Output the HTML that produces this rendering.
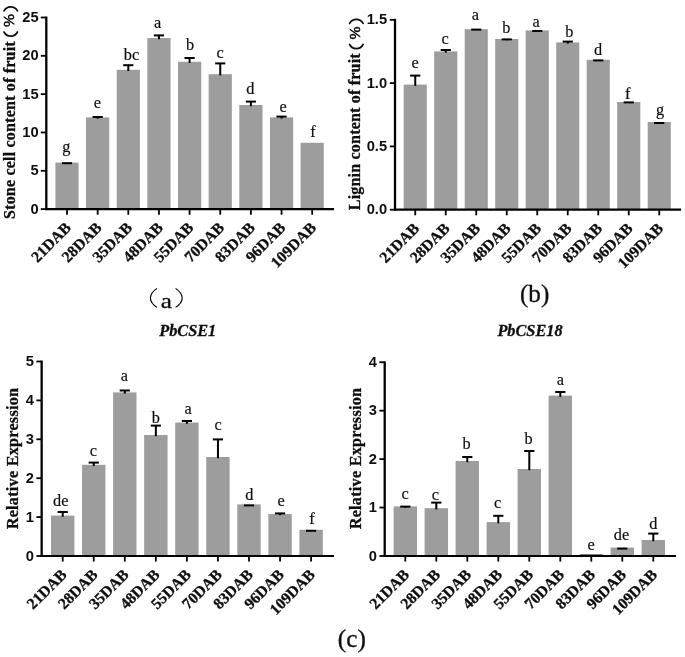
<!DOCTYPE html>
<html><head><meta charset="utf-8"><title>Figure</title>
<style>
html,body{margin:0;padding:0;background:#fff;}
body{width:685px;height:657px;overflow:hidden;font-family:"Liberation Sans",sans-serif;}
svg{display:block;}
text{fill:#111;}
</style></head><body>
<svg width="685" height="657" viewBox="0 0 685 657">
<defs><filter id="soft" x="0" y="0" width="685" height="657" filterUnits="userSpaceOnUse"><feGaussianBlur stdDeviation="0.45"/></filter></defs>
<rect width="685" height="657" fill="#fff"/>
<g filter="url(#soft)">
<rect x="55.40" y="162.60" width="23.2" height="46.50" fill="#9d9d9d"/>
<rect x="86.05" y="117.40" width="23.2" height="91.70" fill="#9d9d9d"/>
<rect x="116.70" y="69.80" width="23.2" height="139.30" fill="#9d9d9d"/>
<rect x="147.35" y="38.00" width="23.2" height="171.10" fill="#9d9d9d"/>
<rect x="178.00" y="61.80" width="23.2" height="147.30" fill="#9d9d9d"/>
<rect x="208.65" y="74.20" width="23.2" height="134.90" fill="#9d9d9d"/>
<rect x="239.30" y="105.00" width="23.2" height="104.10" fill="#9d9d9d"/>
<rect x="269.95" y="117.40" width="23.2" height="91.70" fill="#9d9d9d"/>
<rect x="300.60" y="142.80" width="23.2" height="66.30" fill="#9d9d9d"/>
<path d="M61.90 163.20H72.10" stroke="#000" stroke-width="2.0" fill="none"/>
<path d="M92.55 117.00H102.75" stroke="#000" stroke-width="2.0" fill="none"/>
<path d="M97.65 117.00V118.60" stroke="#000" stroke-width="2.0" fill="none"/>
<path d="M123.20 65.20H133.40" stroke="#000" stroke-width="2.0" fill="none"/>
<path d="M128.30 65.20V71.00" stroke="#000" stroke-width="2.0" fill="none"/>
<path d="M153.85 35.40H164.05" stroke="#000" stroke-width="2.0" fill="none"/>
<path d="M158.95 35.40V39.20" stroke="#000" stroke-width="2.0" fill="none"/>
<path d="M184.50 58.00H194.70" stroke="#000" stroke-width="2.0" fill="none"/>
<path d="M189.60 58.00V63.00" stroke="#000" stroke-width="2.0" fill="none"/>
<path d="M215.15 63.40H225.35" stroke="#000" stroke-width="2.0" fill="none"/>
<path d="M220.25 63.40V75.40" stroke="#000" stroke-width="2.0" fill="none"/>
<path d="M245.80 101.60H256.00" stroke="#000" stroke-width="2.0" fill="none"/>
<path d="M250.90 101.60V106.20" stroke="#000" stroke-width="2.0" fill="none"/>
<path d="M276.45 116.60H286.65" stroke="#000" stroke-width="2.0" fill="none"/>
<path d="M281.55 116.60V118.60" stroke="#000" stroke-width="2.0" fill="none"/>
<path d="M46.3 16.60V210.05" stroke="#000" stroke-width="2.3" fill="none"/>
<path d="M45.199999999999996 209.1H334" stroke="#000" stroke-width="2.2" fill="none"/>
<path d="M40.8 209.10H46.3" stroke="#000" stroke-width="1.8" fill="none"/>
<text x="38.7" y="213.70" font-family="Liberation Sans" font-weight="bold" font-size="14.7" text-anchor="end">0</text>
<path d="M40.8 170.78H46.3" stroke="#000" stroke-width="1.8" fill="none"/>
<text x="38.7" y="175.38" font-family="Liberation Sans" font-weight="bold" font-size="14.7" text-anchor="end">5</text>
<path d="M40.8 132.46H46.3" stroke="#000" stroke-width="1.8" fill="none"/>
<text x="38.7" y="137.06" font-family="Liberation Sans" font-weight="bold" font-size="14.7" text-anchor="end">10</text>
<path d="M40.8 94.14H46.3" stroke="#000" stroke-width="1.8" fill="none"/>
<text x="38.7" y="98.74" font-family="Liberation Sans" font-weight="bold" font-size="14.7" text-anchor="end">15</text>
<path d="M40.8 55.82H46.3" stroke="#000" stroke-width="1.8" fill="none"/>
<text x="38.7" y="60.42" font-family="Liberation Sans" font-weight="bold" font-size="14.7" text-anchor="end">20</text>
<path d="M40.8 17.50H46.3" stroke="#000" stroke-width="1.8" fill="none"/>
<text x="38.7" y="22.10" font-family="Liberation Sans" font-weight="bold" font-size="14.7" text-anchor="end">25</text>
<path d="M67.00 209.1V214.70" stroke="#000" stroke-width="1.8" fill="none"/>
<path d="M97.65 209.1V214.70" stroke="#000" stroke-width="1.8" fill="none"/>
<path d="M128.30 209.1V214.70" stroke="#000" stroke-width="1.8" fill="none"/>
<path d="M158.95 209.1V214.70" stroke="#000" stroke-width="1.8" fill="none"/>
<path d="M189.60 209.1V214.70" stroke="#000" stroke-width="1.8" fill="none"/>
<path d="M220.25 209.1V214.70" stroke="#000" stroke-width="1.8" fill="none"/>
<path d="M250.90 209.1V214.70" stroke="#000" stroke-width="1.8" fill="none"/>
<path d="M281.55 209.1V214.70" stroke="#000" stroke-width="1.8" fill="none"/>
<path d="M312.20 209.1V214.70" stroke="#000" stroke-width="1.8" fill="none"/>
<text transform="translate(71.90,228.70) rotate(-45)" font-family="Liberation Serif" font-weight="bold" font-size="15.7" text-anchor="end" stroke="#111" stroke-width="0.3">21DAB</text>
<text transform="translate(102.55,228.70) rotate(-45)" font-family="Liberation Serif" font-weight="bold" font-size="15.7" text-anchor="end" stroke="#111" stroke-width="0.3">28DAB</text>
<text transform="translate(133.20,228.70) rotate(-45)" font-family="Liberation Serif" font-weight="bold" font-size="15.7" text-anchor="end" stroke="#111" stroke-width="0.3">35DAB</text>
<text transform="translate(163.85,228.70) rotate(-45)" font-family="Liberation Serif" font-weight="bold" font-size="15.7" text-anchor="end" stroke="#111" stroke-width="0.3">48DAB</text>
<text transform="translate(194.50,228.70) rotate(-45)" font-family="Liberation Serif" font-weight="bold" font-size="15.7" text-anchor="end" stroke="#111" stroke-width="0.3">55DAB</text>
<text transform="translate(225.15,228.70) rotate(-45)" font-family="Liberation Serif" font-weight="bold" font-size="15.7" text-anchor="end" stroke="#111" stroke-width="0.3">70DAB</text>
<text transform="translate(255.80,228.70) rotate(-45)" font-family="Liberation Serif" font-weight="bold" font-size="15.7" text-anchor="end" stroke="#111" stroke-width="0.3">83DAB</text>
<text transform="translate(286.45,228.70) rotate(-45)" font-family="Liberation Serif" font-weight="bold" font-size="15.7" text-anchor="end" stroke="#111" stroke-width="0.3">96DAB</text>
<text transform="translate(317.10,228.70) rotate(-45)" font-family="Liberation Serif" font-weight="bold" font-size="15.7" text-anchor="end" stroke="#111" stroke-width="0.3">109DAB</text>
<text x="66.40" y="152.40" font-family="Liberation Serif" font-size="16.3" text-anchor="middle" stroke="#111" stroke-width="0.2">g</text>
<text x="97.40" y="108.00" font-family="Liberation Serif" font-size="16.3" text-anchor="middle" stroke="#111" stroke-width="0.2">e</text>
<text x="131.50" y="60.20" font-family="Liberation Serif" font-size="16.3" text-anchor="middle" stroke="#111" stroke-width="0.2">bc</text>
<text x="157.60" y="28.00" font-family="Liberation Serif" font-size="16.3" text-anchor="middle" stroke="#111" stroke-width="0.2">a</text>
<text x="190.00" y="49.60" font-family="Liberation Serif" font-size="16.3" text-anchor="middle" stroke="#111" stroke-width="0.2">b</text>
<text x="220.00" y="57.80" font-family="Liberation Serif" font-size="16.3" text-anchor="middle" stroke="#111" stroke-width="0.2">c</text>
<text x="250.40" y="93.60" font-family="Liberation Serif" font-size="16.3" text-anchor="middle" stroke="#111" stroke-width="0.2">d</text>
<text x="283.00" y="112.20" font-family="Liberation Serif" font-size="16.3" text-anchor="middle" stroke="#111" stroke-width="0.2">e</text>
<text x="313.00" y="136.60" font-family="Liberation Serif" font-size="16.3" text-anchor="middle" stroke="#111" stroke-width="0.2">f</text>
<g transform="translate(14.5,219) rotate(-90)">
<text x="0" y="0" font-family="Liberation Serif" font-weight="bold" font-size="16.0" letter-spacing="0.2" stroke="#111" stroke-width="0.3">Stone cell content of fruit</text>
<path d="M187.00 -10.5A7.6 7.6 0 0 0 187.00 3.0" stroke="#111" stroke-width="1.7" stroke-linecap="round" fill="none"/>
<text x="198.60" y="-0.3" font-family="Liberation Serif" font-size="15.6" text-anchor="middle" stroke="#111" stroke-width="0.55">%</text>
<path d="M208.10 -10.5A7.6 7.6 0 0 1 208.10 3.0" stroke="#111" stroke-width="1.7" stroke-linecap="round" fill="none"/>
</g>
<rect x="403.70" y="84.60" width="23.1" height="125.10" fill="#9d9d9d"/>
<rect x="434.20" y="51.40" width="23.1" height="158.30" fill="#9d9d9d"/>
<rect x="464.70" y="29.20" width="23.1" height="180.50" fill="#9d9d9d"/>
<rect x="495.20" y="39.00" width="23.1" height="170.70" fill="#9d9d9d"/>
<rect x="525.70" y="30.40" width="23.1" height="179.30" fill="#9d9d9d"/>
<rect x="556.20" y="42.40" width="23.1" height="167.30" fill="#9d9d9d"/>
<rect x="586.70" y="59.80" width="23.1" height="149.90" fill="#9d9d9d"/>
<rect x="617.20" y="102.00" width="23.1" height="107.70" fill="#9d9d9d"/>
<rect x="647.70" y="122.00" width="23.1" height="87.70" fill="#9d9d9d"/>
<path d="M410.15 75.60H420.35" stroke="#000" stroke-width="2.0" fill="none"/>
<path d="M415.25 75.60V85.80" stroke="#000" stroke-width="2.0" fill="none"/>
<path d="M440.65 50.00H450.85" stroke="#000" stroke-width="2.0" fill="none"/>
<path d="M445.75 50.00V52.60" stroke="#000" stroke-width="2.0" fill="none"/>
<path d="M471.15 29.60H481.35" stroke="#000" stroke-width="2.0" fill="none"/>
<path d="M501.65 39.40H511.85" stroke="#000" stroke-width="2.0" fill="none"/>
<path d="M506.75 39.40V40.20" stroke="#000" stroke-width="2.0" fill="none"/>
<path d="M532.15 31.00H542.35" stroke="#000" stroke-width="2.0" fill="none"/>
<path d="M562.65 41.60H572.85" stroke="#000" stroke-width="2.0" fill="none"/>
<path d="M567.75 41.60V43.60" stroke="#000" stroke-width="2.0" fill="none"/>
<path d="M593.15 60.40H603.35" stroke="#000" stroke-width="2.0" fill="none"/>
<path d="M623.65 102.40H633.85" stroke="#000" stroke-width="2.0" fill="none"/>
<path d="M654.15 123.00H664.35" stroke="#000" stroke-width="2.0" fill="none"/>
<path d="M395 18.90V210.65" stroke="#000" stroke-width="2.3" fill="none"/>
<path d="M393.9 209.7H681" stroke="#000" stroke-width="2.2" fill="none"/>
<path d="M389.8 209.70H395" stroke="#000" stroke-width="1.8" fill="none"/>
<text x="387.1" y="214.20" font-family="Liberation Sans" font-weight="bold" font-size="14.7" text-anchor="end">0.0</text>
<path d="M389.8 146.40H395" stroke="#000" stroke-width="1.8" fill="none"/>
<text x="387.1" y="150.90" font-family="Liberation Sans" font-weight="bold" font-size="14.7" text-anchor="end">0.5</text>
<path d="M389.8 83.10H395" stroke="#000" stroke-width="1.8" fill="none"/>
<text x="387.1" y="87.60" font-family="Liberation Sans" font-weight="bold" font-size="14.7" text-anchor="end">1.0</text>
<path d="M389.8 19.80H395" stroke="#000" stroke-width="1.8" fill="none"/>
<text x="387.1" y="24.30" font-family="Liberation Sans" font-weight="bold" font-size="14.7" text-anchor="end">1.5</text>
<path d="M415.25 209.7V215.30" stroke="#000" stroke-width="1.8" fill="none"/>
<path d="M445.75 209.7V215.30" stroke="#000" stroke-width="1.8" fill="none"/>
<path d="M476.25 209.7V215.30" stroke="#000" stroke-width="1.8" fill="none"/>
<path d="M506.75 209.7V215.30" stroke="#000" stroke-width="1.8" fill="none"/>
<path d="M537.25 209.7V215.30" stroke="#000" stroke-width="1.8" fill="none"/>
<path d="M567.75 209.7V215.30" stroke="#000" stroke-width="1.8" fill="none"/>
<path d="M598.25 209.7V215.30" stroke="#000" stroke-width="1.8" fill="none"/>
<path d="M628.75 209.7V215.30" stroke="#000" stroke-width="1.8" fill="none"/>
<path d="M659.25 209.7V215.30" stroke="#000" stroke-width="1.8" fill="none"/>
<text transform="translate(420.15,229.30) rotate(-45)" font-family="Liberation Serif" font-weight="bold" font-size="15.7" text-anchor="end" stroke="#111" stroke-width="0.3">21DAB</text>
<text transform="translate(450.65,229.30) rotate(-45)" font-family="Liberation Serif" font-weight="bold" font-size="15.7" text-anchor="end" stroke="#111" stroke-width="0.3">28DAB</text>
<text transform="translate(481.15,229.30) rotate(-45)" font-family="Liberation Serif" font-weight="bold" font-size="15.7" text-anchor="end" stroke="#111" stroke-width="0.3">35DAB</text>
<text transform="translate(511.65,229.30) rotate(-45)" font-family="Liberation Serif" font-weight="bold" font-size="15.7" text-anchor="end" stroke="#111" stroke-width="0.3">48DAB</text>
<text transform="translate(542.15,229.30) rotate(-45)" font-family="Liberation Serif" font-weight="bold" font-size="15.7" text-anchor="end" stroke="#111" stroke-width="0.3">55DAB</text>
<text transform="translate(572.65,229.30) rotate(-45)" font-family="Liberation Serif" font-weight="bold" font-size="15.7" text-anchor="end" stroke="#111" stroke-width="0.3">70DAB</text>
<text transform="translate(603.15,229.30) rotate(-45)" font-family="Liberation Serif" font-weight="bold" font-size="15.7" text-anchor="end" stroke="#111" stroke-width="0.3">83DAB</text>
<text transform="translate(633.65,229.30) rotate(-45)" font-family="Liberation Serif" font-weight="bold" font-size="15.7" text-anchor="end" stroke="#111" stroke-width="0.3">96DAB</text>
<text transform="translate(664.15,229.30) rotate(-45)" font-family="Liberation Serif" font-weight="bold" font-size="15.7" text-anchor="end" stroke="#111" stroke-width="0.3">109DAB</text>
<text x="415.00" y="68.00" font-family="Liberation Serif" font-size="16.3" text-anchor="middle" stroke="#111" stroke-width="0.2">e</text>
<text x="445.20" y="43.60" font-family="Liberation Serif" font-size="16.3" text-anchor="middle" stroke="#111" stroke-width="0.2">c</text>
<text x="475.40" y="20.00" font-family="Liberation Serif" font-size="16.3" text-anchor="middle" stroke="#111" stroke-width="0.2">a</text>
<text x="506.40" y="32.60" font-family="Liberation Serif" font-size="16.3" text-anchor="middle" stroke="#111" stroke-width="0.2">b</text>
<text x="536.00" y="27.20" font-family="Liberation Serif" font-size="16.3" text-anchor="middle" stroke="#111" stroke-width="0.2">a</text>
<text x="569.20" y="37.20" font-family="Liberation Serif" font-size="16.3" text-anchor="middle" stroke="#111" stroke-width="0.2">b</text>
<text x="598.00" y="55.00" font-family="Liberation Serif" font-size="16.3" text-anchor="middle" stroke="#111" stroke-width="0.2">d</text>
<text x="627.60" y="99.00" font-family="Liberation Serif" font-size="16.3" text-anchor="middle" stroke="#111" stroke-width="0.2">f</text>
<text x="660.00" y="114.60" font-family="Liberation Serif" font-size="16.3" text-anchor="middle" stroke="#111" stroke-width="0.2">g</text>
<g transform="translate(360.1,210.2) rotate(-90)">
<text x="0" y="0" font-family="Liberation Serif" font-weight="bold" font-size="16.0" letter-spacing="0.2" stroke="#111" stroke-width="0.3">Lignin content of fruit</text>
<path d="M165.70 -10.5A7.6 7.6 0 0 0 165.70 3.0" stroke="#111" stroke-width="1.7" stroke-linecap="round" fill="none"/>
<text x="177.30" y="-0.3" font-family="Liberation Serif" font-size="15.6" text-anchor="middle" stroke="#111" stroke-width="0.55">%</text>
<path d="M186.80 -10.5A7.6 7.6 0 0 1 186.80 3.0" stroke="#111" stroke-width="1.7" stroke-linecap="round" fill="none"/>
</g>
<rect x="51.00" y="515.60" width="23.4" height="40.40" fill="#9d9d9d"/>
<rect x="82.05" y="464.80" width="23.4" height="91.20" fill="#9d9d9d"/>
<rect x="113.10" y="392.40" width="23.4" height="163.60" fill="#9d9d9d"/>
<rect x="144.15" y="435.00" width="23.4" height="121.00" fill="#9d9d9d"/>
<rect x="175.20" y="422.60" width="23.4" height="133.40" fill="#9d9d9d"/>
<rect x="206.25" y="457.00" width="23.4" height="99.00" fill="#9d9d9d"/>
<rect x="237.30" y="504.40" width="23.4" height="51.60" fill="#9d9d9d"/>
<rect x="268.35" y="514.00" width="23.4" height="42.00" fill="#9d9d9d"/>
<rect x="299.40" y="529.80" width="23.4" height="26.20" fill="#9d9d9d"/>
<path d="M57.60 512.00H67.80" stroke="#000" stroke-width="2.0" fill="none"/>
<path d="M62.70 512.00V516.80" stroke="#000" stroke-width="2.0" fill="none"/>
<path d="M88.65 462.60H98.85" stroke="#000" stroke-width="2.0" fill="none"/>
<path d="M93.75 462.60V466.00" stroke="#000" stroke-width="2.0" fill="none"/>
<path d="M119.70 390.50H129.90" stroke="#000" stroke-width="2.0" fill="none"/>
<path d="M124.80 390.50V393.60" stroke="#000" stroke-width="2.0" fill="none"/>
<path d="M150.75 425.60H160.95" stroke="#000" stroke-width="2.0" fill="none"/>
<path d="M155.85 425.60V436.20" stroke="#000" stroke-width="2.0" fill="none"/>
<path d="M181.80 421.00H192.00" stroke="#000" stroke-width="2.0" fill="none"/>
<path d="M186.90 421.00V423.80" stroke="#000" stroke-width="2.0" fill="none"/>
<path d="M212.85 439.40H223.05" stroke="#000" stroke-width="2.0" fill="none"/>
<path d="M217.95 439.40V458.20" stroke="#000" stroke-width="2.0" fill="none"/>
<path d="M243.90 505.40H254.10" stroke="#000" stroke-width="2.0" fill="none"/>
<path d="M274.95 513.40H285.15" stroke="#000" stroke-width="2.0" fill="none"/>
<path d="M280.05 513.40V515.20" stroke="#000" stroke-width="2.0" fill="none"/>
<path d="M306.00 530.80H316.20" stroke="#000" stroke-width="2.0" fill="none"/>
<path d="M41.65 360.60V556.95" stroke="#000" stroke-width="2.3" fill="none"/>
<path d="M40.55 556H334" stroke="#000" stroke-width="2.2" fill="none"/>
<path d="M36.4 556.00H41.65" stroke="#000" stroke-width="1.8" fill="none"/>
<text x="33.8" y="560.85" font-family="Liberation Sans" font-weight="bold" font-size="14.7" text-anchor="end">0</text>
<path d="M36.4 517.10H41.65" stroke="#000" stroke-width="1.8" fill="none"/>
<text x="33.8" y="521.95" font-family="Liberation Sans" font-weight="bold" font-size="14.7" text-anchor="end">1</text>
<path d="M36.4 478.20H41.65" stroke="#000" stroke-width="1.8" fill="none"/>
<text x="33.8" y="483.05" font-family="Liberation Sans" font-weight="bold" font-size="14.7" text-anchor="end">2</text>
<path d="M36.4 439.30H41.65" stroke="#000" stroke-width="1.8" fill="none"/>
<text x="33.8" y="444.15" font-family="Liberation Sans" font-weight="bold" font-size="14.7" text-anchor="end">3</text>
<path d="M36.4 400.40H41.65" stroke="#000" stroke-width="1.8" fill="none"/>
<text x="33.8" y="405.25" font-family="Liberation Sans" font-weight="bold" font-size="14.7" text-anchor="end">4</text>
<path d="M36.4 361.50H41.65" stroke="#000" stroke-width="1.8" fill="none"/>
<text x="33.8" y="366.35" font-family="Liberation Sans" font-weight="bold" font-size="14.7" text-anchor="end">5</text>
<path d="M62.70 556V561.60" stroke="#000" stroke-width="1.8" fill="none"/>
<path d="M93.75 556V561.60" stroke="#000" stroke-width="1.8" fill="none"/>
<path d="M124.80 556V561.60" stroke="#000" stroke-width="1.8" fill="none"/>
<path d="M155.85 556V561.60" stroke="#000" stroke-width="1.8" fill="none"/>
<path d="M186.90 556V561.60" stroke="#000" stroke-width="1.8" fill="none"/>
<path d="M217.95 556V561.60" stroke="#000" stroke-width="1.8" fill="none"/>
<path d="M249.00 556V561.60" stroke="#000" stroke-width="1.8" fill="none"/>
<path d="M280.05 556V561.60" stroke="#000" stroke-width="1.8" fill="none"/>
<path d="M311.10 556V561.60" stroke="#000" stroke-width="1.8" fill="none"/>
<text transform="translate(67.60,575.60) rotate(-45)" font-family="Liberation Serif" font-weight="bold" font-size="15.7" text-anchor="end" stroke="#111" stroke-width="0.3">21DAB</text>
<text transform="translate(98.65,575.60) rotate(-45)" font-family="Liberation Serif" font-weight="bold" font-size="15.7" text-anchor="end" stroke="#111" stroke-width="0.3">28DAB</text>
<text transform="translate(129.70,575.60) rotate(-45)" font-family="Liberation Serif" font-weight="bold" font-size="15.7" text-anchor="end" stroke="#111" stroke-width="0.3">35DAB</text>
<text transform="translate(160.75,575.60) rotate(-45)" font-family="Liberation Serif" font-weight="bold" font-size="15.7" text-anchor="end" stroke="#111" stroke-width="0.3">48DAB</text>
<text transform="translate(191.80,575.60) rotate(-45)" font-family="Liberation Serif" font-weight="bold" font-size="15.7" text-anchor="end" stroke="#111" stroke-width="0.3">55DAB</text>
<text transform="translate(222.85,575.60) rotate(-45)" font-family="Liberation Serif" font-weight="bold" font-size="15.7" text-anchor="end" stroke="#111" stroke-width="0.3">70DAB</text>
<text transform="translate(253.90,575.60) rotate(-45)" font-family="Liberation Serif" font-weight="bold" font-size="15.7" text-anchor="end" stroke="#111" stroke-width="0.3">83DAB</text>
<text transform="translate(284.95,575.60) rotate(-45)" font-family="Liberation Serif" font-weight="bold" font-size="15.7" text-anchor="end" stroke="#111" stroke-width="0.3">96DAB</text>
<text transform="translate(316.00,575.60) rotate(-45)" font-family="Liberation Serif" font-weight="bold" font-size="15.7" text-anchor="end" stroke="#111" stroke-width="0.3">109DAB</text>
<text x="60.70" y="506.20" font-family="Liberation Serif" font-size="16.3" text-anchor="middle" stroke="#111" stroke-width="0.2">de</text>
<text x="93.40" y="455.60" font-family="Liberation Serif" font-size="16.3" text-anchor="middle" stroke="#111" stroke-width="0.2">c</text>
<text x="124.40" y="381.20" font-family="Liberation Serif" font-size="16.3" text-anchor="middle" stroke="#111" stroke-width="0.2">a</text>
<text x="155.80" y="423.20" font-family="Liberation Serif" font-size="16.3" text-anchor="middle" stroke="#111" stroke-width="0.2">b</text>
<text x="188.00" y="413.60" font-family="Liberation Serif" font-size="16.3" text-anchor="middle" stroke="#111" stroke-width="0.2">a</text>
<text x="218.00" y="429.60" font-family="Liberation Serif" font-size="16.3" text-anchor="middle" stroke="#111" stroke-width="0.2">c</text>
<text x="249.40" y="500.20" font-family="Liberation Serif" font-size="16.3" text-anchor="middle" stroke="#111" stroke-width="0.2">d</text>
<text x="281.00" y="505.60" font-family="Liberation Serif" font-size="16.3" text-anchor="middle" stroke="#111" stroke-width="0.2">e</text>
<text x="312.00" y="523.60" font-family="Liberation Serif" font-size="16.3" text-anchor="middle" stroke="#111" stroke-width="0.2">f</text>
<g transform="translate(17.6,529.3) rotate(-90)">
<text x="0" y="0" font-family="Liberation Serif" font-weight="bold" font-size="16.2" letter-spacing="0.25" stroke="#111" stroke-width="0.3">Relative Expression</text>
</g>
<text x="187.7" y="335.6" font-family="Liberation Serif" font-weight="bold" font-style="italic" font-size="16.3" text-anchor="middle" stroke="#111" stroke-width="0.3">PbCSE1</text>
<rect x="579.8" y="554.3" width="23" height="1.2" fill="#444"/>
<rect x="393.60" y="506.40" width="23.4" height="49.60" fill="#9d9d9d"/>
<rect x="424.60" y="508.20" width="23.4" height="47.80" fill="#9d9d9d"/>
<rect x="455.60" y="461.00" width="23.4" height="95.00" fill="#9d9d9d"/>
<rect x="486.60" y="522.10" width="23.4" height="33.90" fill="#9d9d9d"/>
<rect x="517.60" y="469.00" width="23.4" height="87.00" fill="#9d9d9d"/>
<rect x="548.60" y="395.60" width="23.4" height="160.40" fill="#9d9d9d"/>
<rect x="579.60" y="556.00" width="23.4" height="0.00" fill="#9d9d9d"/>
<rect x="610.60" y="547.60" width="23.4" height="8.40" fill="#9d9d9d"/>
<rect x="641.60" y="540.00" width="23.4" height="16.00" fill="#9d9d9d"/>
<path d="M400.20 506.60H410.40" stroke="#000" stroke-width="2.0" fill="none"/>
<path d="M405.30 506.60V507.60" stroke="#000" stroke-width="2.0" fill="none"/>
<path d="M431.20 502.60H441.40" stroke="#000" stroke-width="2.0" fill="none"/>
<path d="M436.30 502.60V509.40" stroke="#000" stroke-width="2.0" fill="none"/>
<path d="M462.20 457.00H472.40" stroke="#000" stroke-width="2.0" fill="none"/>
<path d="M467.30 457.00V462.20" stroke="#000" stroke-width="2.0" fill="none"/>
<path d="M493.20 515.80H503.40" stroke="#000" stroke-width="2.0" fill="none"/>
<path d="M498.30 515.80V523.30" stroke="#000" stroke-width="2.0" fill="none"/>
<path d="M524.20 451.00H534.40" stroke="#000" stroke-width="2.0" fill="none"/>
<path d="M529.30 451.00V470.20" stroke="#000" stroke-width="2.0" fill="none"/>
<path d="M555.20 392.00H565.40" stroke="#000" stroke-width="2.0" fill="none"/>
<path d="M560.30 392.00V396.80" stroke="#000" stroke-width="2.0" fill="none"/>
<path d="M617.20 548.60H627.40" stroke="#000" stroke-width="2.0" fill="none"/>
<path d="M648.20 533.60H658.40" stroke="#000" stroke-width="2.0" fill="none"/>
<path d="M653.30 533.60V541.20" stroke="#000" stroke-width="2.0" fill="none"/>
<path d="M384.7 361.34V556.95" stroke="#000" stroke-width="2.3" fill="none"/>
<path d="M383.59999999999997 556H676" stroke="#000" stroke-width="2.2" fill="none"/>
<path d="M379.4 556.00H384.7" stroke="#000" stroke-width="1.8" fill="none"/>
<text x="376.8" y="560.70" font-family="Liberation Sans" font-weight="bold" font-size="14.7" text-anchor="end">0</text>
<path d="M379.4 507.56H384.7" stroke="#000" stroke-width="1.8" fill="none"/>
<text x="376.8" y="512.26" font-family="Liberation Sans" font-weight="bold" font-size="14.7" text-anchor="end">1</text>
<path d="M379.4 459.12H384.7" stroke="#000" stroke-width="1.8" fill="none"/>
<text x="376.8" y="463.82" font-family="Liberation Sans" font-weight="bold" font-size="14.7" text-anchor="end">2</text>
<path d="M379.4 410.68H384.7" stroke="#000" stroke-width="1.8" fill="none"/>
<text x="376.8" y="415.38" font-family="Liberation Sans" font-weight="bold" font-size="14.7" text-anchor="end">3</text>
<path d="M379.4 362.24H384.7" stroke="#000" stroke-width="1.8" fill="none"/>
<text x="376.8" y="366.94" font-family="Liberation Sans" font-weight="bold" font-size="14.7" text-anchor="end">4</text>
<path d="M405.30 556V561.60" stroke="#000" stroke-width="1.8" fill="none"/>
<path d="M436.30 556V561.60" stroke="#000" stroke-width="1.8" fill="none"/>
<path d="M467.30 556V561.60" stroke="#000" stroke-width="1.8" fill="none"/>
<path d="M498.30 556V561.60" stroke="#000" stroke-width="1.8" fill="none"/>
<path d="M529.30 556V561.60" stroke="#000" stroke-width="1.8" fill="none"/>
<path d="M560.30 556V561.60" stroke="#000" stroke-width="1.8" fill="none"/>
<path d="M591.30 556V561.60" stroke="#000" stroke-width="1.8" fill="none"/>
<path d="M622.30 556V561.60" stroke="#000" stroke-width="1.8" fill="none"/>
<path d="M653.30 556V561.60" stroke="#000" stroke-width="1.8" fill="none"/>
<text transform="translate(410.20,575.60) rotate(-45)" font-family="Liberation Serif" font-weight="bold" font-size="15.7" text-anchor="end" stroke="#111" stroke-width="0.3">21DAB</text>
<text transform="translate(441.20,575.60) rotate(-45)" font-family="Liberation Serif" font-weight="bold" font-size="15.7" text-anchor="end" stroke="#111" stroke-width="0.3">28DAB</text>
<text transform="translate(472.20,575.60) rotate(-45)" font-family="Liberation Serif" font-weight="bold" font-size="15.7" text-anchor="end" stroke="#111" stroke-width="0.3">35DAB</text>
<text transform="translate(503.20,575.60) rotate(-45)" font-family="Liberation Serif" font-weight="bold" font-size="15.7" text-anchor="end" stroke="#111" stroke-width="0.3">48DAB</text>
<text transform="translate(534.20,575.60) rotate(-45)" font-family="Liberation Serif" font-weight="bold" font-size="15.7" text-anchor="end" stroke="#111" stroke-width="0.3">55DAB</text>
<text transform="translate(565.20,575.60) rotate(-45)" font-family="Liberation Serif" font-weight="bold" font-size="15.7" text-anchor="end" stroke="#111" stroke-width="0.3">70DAB</text>
<text transform="translate(596.20,575.60) rotate(-45)" font-family="Liberation Serif" font-weight="bold" font-size="15.7" text-anchor="end" stroke="#111" stroke-width="0.3">83DAB</text>
<text transform="translate(627.20,575.60) rotate(-45)" font-family="Liberation Serif" font-weight="bold" font-size="15.7" text-anchor="end" stroke="#111" stroke-width="0.3">96DAB</text>
<text transform="translate(658.20,575.60) rotate(-45)" font-family="Liberation Serif" font-weight="bold" font-size="15.7" text-anchor="end" stroke="#111" stroke-width="0.3">109DAB</text>
<text x="405.00" y="498.60" font-family="Liberation Serif" font-size="16.3" text-anchor="middle" stroke="#111" stroke-width="0.2">c</text>
<text x="435.40" y="500.20" font-family="Liberation Serif" font-size="16.3" text-anchor="middle" stroke="#111" stroke-width="0.2">c</text>
<text x="466.60" y="449.20" font-family="Liberation Serif" font-size="16.3" text-anchor="middle" stroke="#111" stroke-width="0.2">b</text>
<text x="497.50" y="507.60" font-family="Liberation Serif" font-size="16.3" text-anchor="middle" stroke="#111" stroke-width="0.2">c</text>
<text x="528.60" y="443.60" font-family="Liberation Serif" font-size="16.3" text-anchor="middle" stroke="#111" stroke-width="0.2">b</text>
<text x="560.40" y="384.60" font-family="Liberation Serif" font-size="16.3" text-anchor="middle" stroke="#111" stroke-width="0.2">a</text>
<text x="591.00" y="549.60" font-family="Liberation Serif" font-size="16.3" text-anchor="middle" stroke="#111" stroke-width="0.2">e</text>
<text x="621.50" y="540.20" font-family="Liberation Serif" font-size="16.3" text-anchor="middle" stroke="#111" stroke-width="0.2">de</text>
<text x="653.40" y="528.60" font-family="Liberation Serif" font-size="16.3" text-anchor="middle" stroke="#111" stroke-width="0.2">d</text>
<g transform="translate(360.6,529.3) rotate(-90)">
<text x="0" y="0" font-family="Liberation Serif" font-weight="bold" font-size="16.2" letter-spacing="0.25" stroke="#111" stroke-width="0.3">Relative Expression</text>
</g>
<text x="530" y="335.9" font-family="Liberation Serif" font-weight="bold" font-style="italic" font-size="16.3" text-anchor="middle" stroke="#111" stroke-width="0.3">PbCSE18</text>
<text x="534.6" y="302" font-family="Liberation Serif" font-size="25.2" text-anchor="middle" stroke="#111" stroke-width="0.3">(b)</text>
<text x="351.8" y="647.1" font-family="Liberation Serif" font-size="25.2" text-anchor="middle" stroke="#111" stroke-width="0.35">(c)</text>
<text transform="translate(166.3,307.6) scale(1.17,1)" x="0" y="0" font-family="Liberation Serif" font-size="21.5" text-anchor="middle" stroke="#111" stroke-width="0.3">a</text>
<path d="M157.0 288.4C148.2 294.5 148.2 301.3 157.0 307.4" stroke="#000" stroke-width="1.15" fill="none"/>
<path d="M175.6 288.4C184.4 294.5 184.4 301.3 175.6 307.4" stroke="#000" stroke-width="1.15" fill="none"/>
</g>
</svg>
</body></html>
